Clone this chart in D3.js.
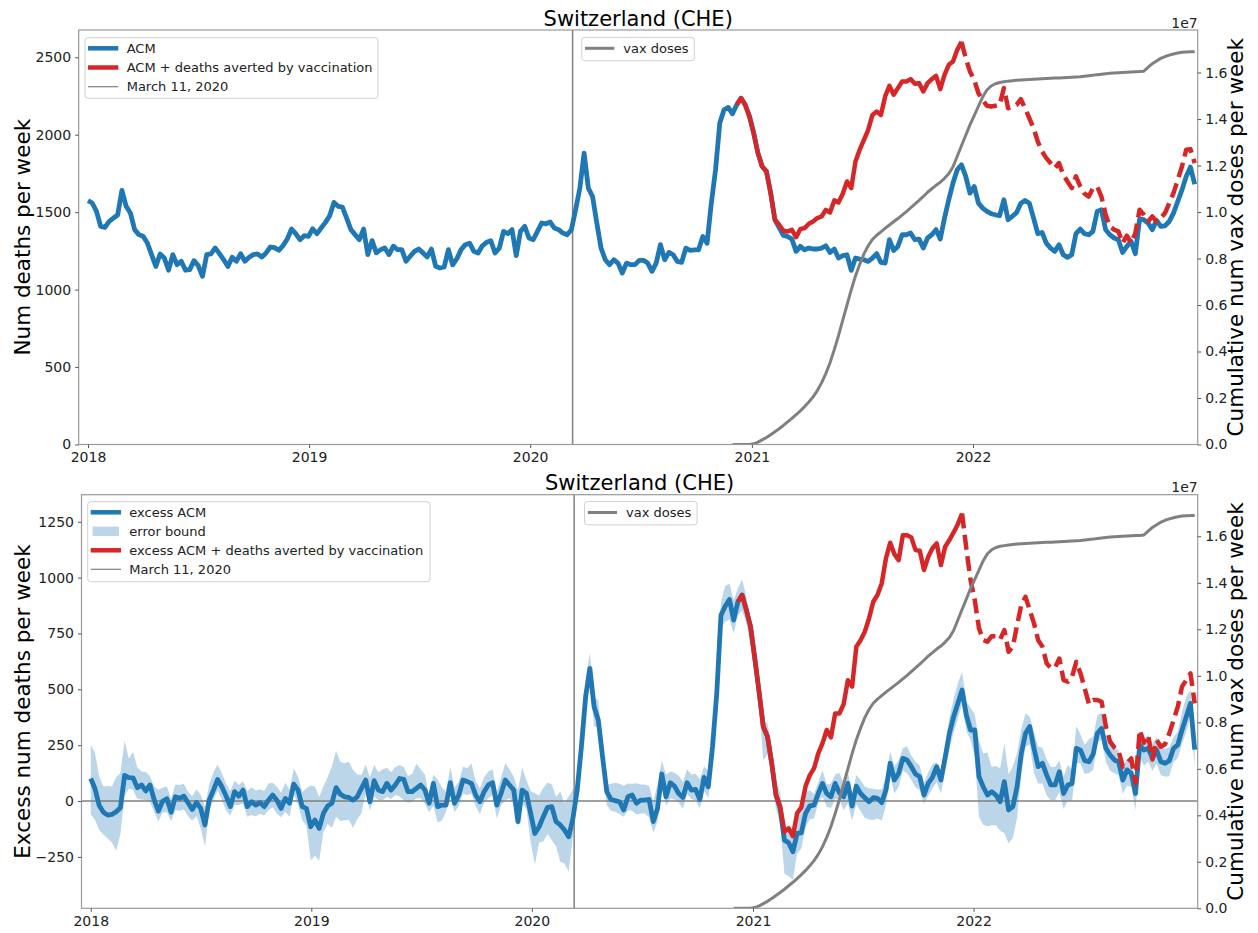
<!DOCTYPE html>
<html><head><meta charset="utf-8">
<script src="https://cdn.jsdelivr.net/npm/d3@7"></script>
<style>
body{margin:0;background:#fff;}
svg text{font-family:"DejaVu Sans",sans-serif;}
</style></head><body>
<svg id="chart" width="1258" height="933"></svg>
<script>
// ---------------- DATA ----------------
const firstWeek = "2018-01-01";           // weekly series start
const marchDate = "2020-03-11";
const countryTitle = "Switzerland (CHE)";

// weekly all-cause mortality (weeks 0..261)
const acm = [
1574,1559,1505,1408,1402,1441,1462,1482,1641,1538,
1495,1387,1355,1344,1301,1226,1150,1230,1204,1125,
1226,1161,1183,1125,1129,1187,1155,1086,1226,1230,
1269,1232,1193,1150,1209,1183,1232,1183,1209,1226,
1230,1211,1237,1275,1271,1254,1284,1327,1391,1361,
1322,1348,1344,1393,1361,1398,1434,1477,1563,1538,
1533,1462,1387,1355,1322,1391,1226,1316,1237,1258,
1269,1226,1280,1258,1258,1183,1215,1247,1262,1237,
1211,1262,1150,1140,1146,1258,1160,1200,1258,1290,
1300,1247,1236,1283,1305,1315,1236,1268,1376,1361,
1387,1219,1376,1408,1333,1322,1376,1430,1425,1436,
1397,1387,1365,1354,1387,1515,1655,1881,1655,1601,
1430,1268,1193,1161,1193,1171,1107,1171,1161,1161,
1189,1189,1171,1118,1171,1290,1193,1240,1225,1182,
1176,1268,1253,1257,1257,1343,1300,1558,1774,2075,
2161,2176,2135,2193,2236,2193,2118,2010,1881,1795,
1763,1623,1451,1400,1350,1343,1326,1247,1279,1257,
1268,1262,1262,1268,1283,1240,1262,1204,1219,1225,
1124,1204,1197,1193,1182,1204,1232,1176,1171,1322,
1253,1279,1354,1354,1365,1322,1326,1268,1333,1354,
1387,1326,1462,1580,1688,1774,1806,1731,1623,1666,
1558,1526,1505,1490,1483,1477,1580,1451,1473,1498,
1558,1576,1558,1462,1361,1369,1300,1268,1247,1290,
1225,1208,1225,1361,1391,1361,1354,1376,1505,1516,
1387,1354,1333,1322,1240,1279,1311,1232,1455,1451,
1430,1387,1447,1408,1412,1440,1494,1569,1644,1731,
1791,1680];

// ACM + deaths averted by vaccination (from week 153; dashed from week 206)
const avertedStartWeek = 153;
const dashedFromWeek = 206;
const acmPlusAverted = [
2193,2236,2193,2118,2010,1881,1795,1763,1623,1451,
1419,1380,1375,1386,1339,1391,1397,1425,1440,1462,
1472,1515,1498,1576,1563,1619,1698,1655,1827,1903,
1967,2032,2128,2150,2128,2247,2316,2258,2301,2344,
2344,2359,2329,2333,2279,2333,2359,2380,2294,2387,
2451,2473,2548,2600,2494,2408,2354,2268,2225,2187,
2182,2187,2193,2301,2171,2182,2193,2230,2171,2107,
2042,1956,1892,1849,1817,1784,1817,1741,1698,1655,
1731,1666,1619,1601,1655,1666,1601,1483,1408,1387,
1376,1300,1348,1300,1365,1516,1483,1440,1473,1440,
1462,1494,1558,1623,1709,1795,1903,1907,1817];

// weekly excess ACM (weeks 0..261)
const excessAcm = [
101,55,-20,-50,-63,-60,-48,-30,115,105,
104,60,72,45,72,5,-45,0,10,-50,
19,12,22,-8,-38,-7,-33,-107,4,49,
97,64,22,-25,42,22,49,-25,-3,-18,
-7,-25,4,27,4,-33,12,-10,76,49,
-25,-33,-115,-85,-122,-55,-22,-10,60,31,
19,16,4,19,57,94,-3,91,49,42,
79,49,72,101,97,42,42,57,72,49,
-10,79,-25,-18,-18,82,-10,27,94,87,
79,27,-3,42,72,82,-18,34,94,72,
49,-92,49,34,-55,-145,-115,-70,-28,-25,
-92,-107,-130,-160,-77,49,243,467,594,422,
362,198,42,7,2,-3,-40,19,27,-10,
4,4,7,-92,-33,121,19,82,67,34,
16,82,49,52,7,106,64,243,482,832,
872,902,810,892,922,855,780,638,489,333,
288,169,27,-33,-175,-187,-227,-145,-142,-55,
-22,-18,34,79,34,19,79,37,19,79,
-22,67,34,15,-3,15,12,-7,49,169,
94,124,191,184,154,121,109,27,79,106,
154,94,195,303,377,437,497,385,318,318,
109,64,27,42,27,-3,87,-40,-25,64,
213,303,333,236,154,169,116,72,72,131,
34,72,79,236,228,181,176,210,303,325,
236,206,184,176,94,139,124,34,251,228,
236,191,228,176,169,181,236,251,318,377,
437,230];

// error bound: distance of upper / lower edge from excess ACM
const errorUp = [
150,160,130,115,130,125,155,155,155,85,
115,90,60,85,40,60,95,60,55,60,
55,60,55,50,60,60,60,80,70,80,
65,60,55,70,50,50,40,70,65,65,
60,70,75,55,60,70,70,60,70,60,
65,90,185,150,140,120,130,165,165,145,
150,160,135,100,60,70,110,70,80,100,
70,80,80,60,55,70,80,110,70,70,
30,40,120,80,60,70,70,60,60,60,
90,60,60,65,60,60,60,70,75,70,
60,140,100,60,100,180,140,130,110,100,
110,150,120,180,130,20,50,70,70,40,
90,50,30,70,80,80,110,60,50,90,
70,70,60,90,110,60,100,50,60,80,
70,60,70,70,90,50,70,60,60,60,
90,70,90,60,70,60,30,40,40,30,
60,70,60,70,60,50,70,75,90,90,
70,50,50,60,40,60,40,90,60,50,
55,50,60,50,60,40,40,60,60,55,
60,60,45,60,50,55,50,55,50,60,
20,40,50,70,80,90,80,60,100,70,
160,150,190,110,130,150,170,160,180,150,
110,90,45,70,90,70,70,80,80,50,
75,90,60,100,70,70,100,80,80,70,
50,50,60,50,60,50,60,60,65,50,
60,65,60,60,65,60,50,60,80,90,
60,60];
const errorDown = [
160,140,110,100,105,125,175,120,90,50,
55,50,65,40,75,55,45,50,60,40,
60,55,60,60,50,60,90,95,45,45,
50,60,65,40,60,40,60,45,60,50,
50,40,45,55,60,40,60,60,45,65,
60,80,150,160,145,85,80,110,130,120,
105,100,125,100,110,60,40,70,45,40,
60,40,45,80,95,50,45,45,60,60,
40,100,70,70,30,55,40,50,60,60,
45,50,55,50,60,55,60,55,90,60,
60,25,60,70,130,140,70,110,120,150,
110,165,150,155,80,50,50,60,60,90,
30,50,60,50,50,55,30,60,70,50,
60,60,80,50,60,40,40,70,60,40,
50,50,40,50,40,60,50,60,60,60,
70,90,60,60,70,60,90,70,60,150,
80,60,60,70,150,150,125,90,70,60,
60,60,40,60,60,50,70,30,60,90,
65,80,80,90,80,100,90,80,70,60,
60,60,55,60,60,60,60,40,55,50,
70,60,60,70,70,70,60,70,45,120,
180,170,140,150,135,130,230,150,140,140,
90,60,80,110,75,90,90,70,70,90,
70,70,80,65,60,60,50,70,40,50,
60,70,60,60,60,70,60,75,55,70,
60,55,60,60,60,70,60,60,60,70,
60,80];

// excess ACM + deaths averted by vaccination (from week 153)
const excessPlusAverted = [
892,922,855,780,638,489,333,288,169,27,
-25,-137,-122,-157,-55,-28,67,116,146,213,
258,318,285,392,392,434,541,512,691,720,
758,817,892,922,974,1086,1156,1105,1078,1190,
1190,1180,1123,1120,1034,1093,1131,1153,1056,1138,
1168,1202,1239,1287,1131,989,899,773,720,713,
738,738,723,765,668,691,787,877,914,855,
795,720,691,616,594,598,638,541,534,556,
623,571,504,434,452,452,444,333,266,240,
225,154,169,191,79,318,261,295,186,273,
243,255,303,362,422,512,541,571,437];

// cumulative vaccine doses, millions (from week 152)
const vaxStartWeek = 152;
const vaxDosesMillions = [
0,0,0,0,0,0.03,0.10,0.20,0.30,0.42,
0.55,0.68,0.82,0.97,1.12,1.28,1.45,1.63,1.83,2.05,
2.32,2.65,3.05,3.52,4.08,4.68,5.35,6.00,6.65,7.25,
7.75,8.20,8.55,8.82,9.00,9.15,9.30,9.44,9.58,9.72,
9.87,10.02,10.18,10.34,10.50,10.67,10.85,11.00,11.15,11.28,
11.45,11.65,11.95,12.40,12.85,13.30,13.75,14.15,14.55,14.95,
15.25,15.42,15.52,15.57,15.60,15.63,15.65,15.67,15.68,15.69,
15.70,15.71,15.72,15.73,15.74,15.75,15.76,15.77,15.78,15.79,
15.80,15.81,15.82,15.84,15.86,15.88,15.91,15.93,15.95,15.97,
15.98,15.99,16.00,16.01,16.02,16.03,16.04,16.06,16.22,16.38,
16.50,16.61,16.69,16.75,16.80,16.84,16.87,16.88,16.89,16.89];

const yearTicks = [2018, 2019, 2020, 2021, 2022];
const topDeathTicks = [0, 500, 1000, 1500, 2000, 2500];
const bottomDeathTicks = [-250, 0, 250, 500, 750, 1000, 1250];
const vaxTicksMillions = [0, 2, 4, 6, 8, 10, 12, 14, 16];

// ---------------- DRAWING ----------------
const BLUE = "#1f77b4", RED = "#d62728", GREY = "#808080";
const svg = d3.select("#chart");
const t0 = new Date(firstWeek + "T00:00:00Z").getTime();
const WEEK = 7 * 864e5;
const weekDate = i => new Date(t0 + i * WEEK);
const xDomain = [new Date(Date.UTC(2017, 11, 16, 16)), new Date(Date.UTC(2023, 0, 6, 23))];

const panels = [
  { id: "top", left: 78.7, right: 1197.7, top: 30, bottom: 444.5,
    yDom: [0, 2676], vDom: [0, 17.83], yTicks: topDeathTicks,
    ylabel: "Num deaths per week", mode: "acm" },
  { id: "bot", left: 81.5, right: 1197.7, top: 494.7, bottom: 908.3,
    yDom: [-480, 1371], vDom: [0, 17.79], yTicks: bottomDeathTicks,
    ylabel: "Excess num deaths per week", mode: "excess" }
];

panels.forEach(p => {
  const x = d3.scaleUtc().domain(xDomain).range([p.left, p.right]);
  const y = d3.scaleLinear().domain(p.yDom).range([p.bottom, p.top]);
  const yv = d3.scaleLinear().domain(p.vDom).range([p.bottom, p.top]);
  const clipId = "clip-" + p.id;
  svg.append("clipPath").attr("id", clipId).append("rect")
    .attr("x", p.left).attr("y", p.top)
    .attr("width", p.right - p.left).attr("height", p.bottom - p.top);
  const g = svg.append("g").attr("clip-path", `url(#${clipId})`);

  const mainSeries = p.mode === "acm" ? acm : excessAcm;
  const avertSeries = p.mode === "acm" ? acmPlusAverted : excessPlusAverted;
  const pts = mainSeries.map((v, i) => ({ d: weekDate(i), v, i }));

  if (p.mode === "excess") {
    const band = excessAcm.map((v, i) => ({ d: weekDate(i), lo: v - errorDown[i], hi: v + errorUp[i] }));
    g.append("path").datum(band)
      .attr("d", d3.area().x(d => x(d.d)).y0(d => y(d.lo)).y1(d => y(d.hi)))
      .attr("fill", BLUE).attr("fill-opacity", 0.3);
    g.append("line").attr("x1", p.left).attr("x2", p.right)
      .attr("y1", y(0)).attr("y2", y(0))
      .attr("stroke", GREY).attr("stroke-width", 1.5);
  }
  // March 11, 2020
  const xm = x(new Date(marchDate + "T00:00:00Z"));
  g.append("line").attr("x1", xm).attr("x2", xm).attr("y1", p.top).attr("y2", p.bottom)
    .attr("stroke", GREY).attr("stroke-width", 1.5);

  const line = d3.line().x(d => x(d.d)).y(d => y(d.v));
  g.append("path").datum(pts).attr("d", line)
    .attr("fill", "none").attr("stroke", BLUE).attr("stroke-width", 4.8)
    .attr("stroke-linejoin", "round");

  const av = avertSeries.map((v, k) => ({ d: weekDate(avertedStartWeek + k), v, i: avertedStartWeek + k }));
  g.append("path").datum(av.filter(d => d.i <= dashedFromWeek)).attr("d", line)
    .attr("fill", "none").attr("stroke", RED).attr("stroke-width", 4.5)
    .attr("stroke-linejoin", "round");
  g.append("path").datum(av.filter(d => d.i >= dashedFromWeek)).attr("d", line)
    .attr("fill", "none").attr("stroke", RED).attr("stroke-width", 4.5)
    .attr("stroke-linejoin", "round").attr("stroke-dasharray", "15,6.5");

  // vax doses on twin axis
  const vx = vaxDosesMillions.map((v, k) => ({ d: weekDate(vaxStartWeek + k), v }));
  g.append("path").datum(vx)
    .attr("d", d3.line().x(d => x(d.d)).y(d => yv(d.v)))
    .attr("fill", "none").attr("stroke", GREY).attr("stroke-width", 3)
    .attr("stroke-linejoin", "round");

  // spines
  svg.append("rect").attr("x", p.left).attr("y", p.top)
    .attr("width", p.right - p.left).attr("height", p.bottom - p.top)
    .attr("fill", "none").attr("stroke", "#9a9a9a").attr("stroke-width", 1.2);

  // axes
  const styleAxis = sel => {
    sel.select(".domain").remove();
    sel.selectAll(".tick line").attr("stroke", "#555").attr("stroke-width", 1);
    sel.selectAll(".tick text").attr("fill", "#222").style("font-size", "14px")
      .style("font-family", '"DejaVu Sans", sans-serif');
  };
  svg.append("g").attr("transform", `translate(0,${p.bottom})`)
    .call(d3.axisBottom(x).tickValues(yearTicks.map(yr => new Date(Date.UTC(yr, 0, 1))))
      .tickFormat(d3.utcFormat("%Y")).tickSize(3.5).tickPadding(4))
    .call(styleAxis);
  svg.append("g").attr("transform", `translate(${p.left},0)`)
    .call(d3.axisLeft(y).tickValues(p.yTicks).tickFormat(d3.format("d")).tickSize(3.5).tickPadding(4))
    .call(styleAxis);
  svg.append("g").attr("transform", `translate(${p.right},0)`)
    .call(d3.axisRight(yv).tickValues(vaxTicksMillions).tickFormat(d => (d / 10).toFixed(1)).tickSize(3.5).tickPadding(4))
    .call(styleAxis);

  // titles and labels
  svg.append("text").attr("x", (p.left + p.right) / 2).attr("y", p.top - 4.5)
    .attr("text-anchor", "middle").style("font-size", "21px").attr("fill", "#000").text(countryTitle);
  svg.append("text").attr("x", p.right).attr("y", p.top - 2.5)
    .attr("text-anchor", "end").style("font-size", "14px").attr("fill", "#222").text("1e7");
  const cy = (p.top + p.bottom) / 2;
  svg.append("text").attr("transform", `translate(29.5,${cy}) rotate(-90)`)
    .attr("text-anchor", "middle").style("font-size", "21.5px").attr("fill", "#000").text(p.ylabel);
  svg.append("text").attr("transform", `translate(1243,${cy}) rotate(-90)`)
    .attr("text-anchor", "middle").style("font-size", "21.5px").attr("fill", "#000")
    .text("Cumulative num vax doses per week");
});

// ---------------- LEGENDS ----------------
function legend(box, entries) {
  const g = svg.append("g");
  g.append("rect").attr("x", box.x).attr("y", box.y).attr("width", box.w).attr("height", box.h)
    .attr("rx", 3).attr("fill", "#fff").attr("fill-opacity", 0.85)
    .attr("stroke", "#d0d0d0").attr("stroke-width", 1);
  entries.forEach((e, k) => {
    const cy = box.firstY + k * box.step;
    if (e.type === "patch") {
      g.append("rect").attr("x", box.hx0 + 2).attr("y", cy - 4.7).attr("width", box.hx1 - box.hx0 - 4)
        .attr("height", 9.4).attr("fill", e.color).attr("fill-opacity", 0.3);
    } else {
      g.append("line").attr("x1", box.hx0).attr("x2", box.hx1).attr("y1", cy).attr("y2", cy)
        .attr("stroke", e.color).attr("stroke-width", e.w);
    }
    g.append("text").attr("x", box.tx).attr("y", cy + 4.7).style("font-size", "13px")
      .attr("fill", "#222").text(e.label);
  });
}
legend({ x: 85, y: 37.7, w: 293, h: 60.6, firstY: 48.3, step: 19.2, hx0: 88, hx1: 118.3, tx: 126.7 }, [
  { label: "ACM", color: BLUE, w: 4.5 },
  { label: "ACM + deaths averted by vaccination", color: RED, w: 4.5 },
  { label: "March 11, 2020", color: GREY, w: 1.2 }
]);
legend({ x: 581.7, y: 37.3, w: 112.6, h: 23.4, firstY: 48.3, step: 19, hx0: 585, hx1: 614.3, tx: 623.3 }, [
  { label: "vax doses", color: GREY, w: 3 }
]);
legend({ x: 87.7, y: 501.7, w: 342.3, h: 80, firstY: 512.3, step: 19.0, hx0: 90.7, hx1: 121, tx: 129.3 }, [
  { label: "excess ACM", color: BLUE, w: 4.5 },
  { label: "error bound", color: BLUE, type: "patch" },
  { label: "excess ACM + deaths averted by vaccination", color: RED, w: 4.5 },
  { label: "March 11, 2020", color: GREY, w: 1.2 }
]);
legend({ x: 584.5, y: 501.5, w: 112.6, h: 23.4, firstY: 512.5, step: 19, hx0: 587.8, hx1: 617, tx: 626 }, [
  { label: "vax doses", color: GREY, w: 3 }
]);
</script>
</body></html>
